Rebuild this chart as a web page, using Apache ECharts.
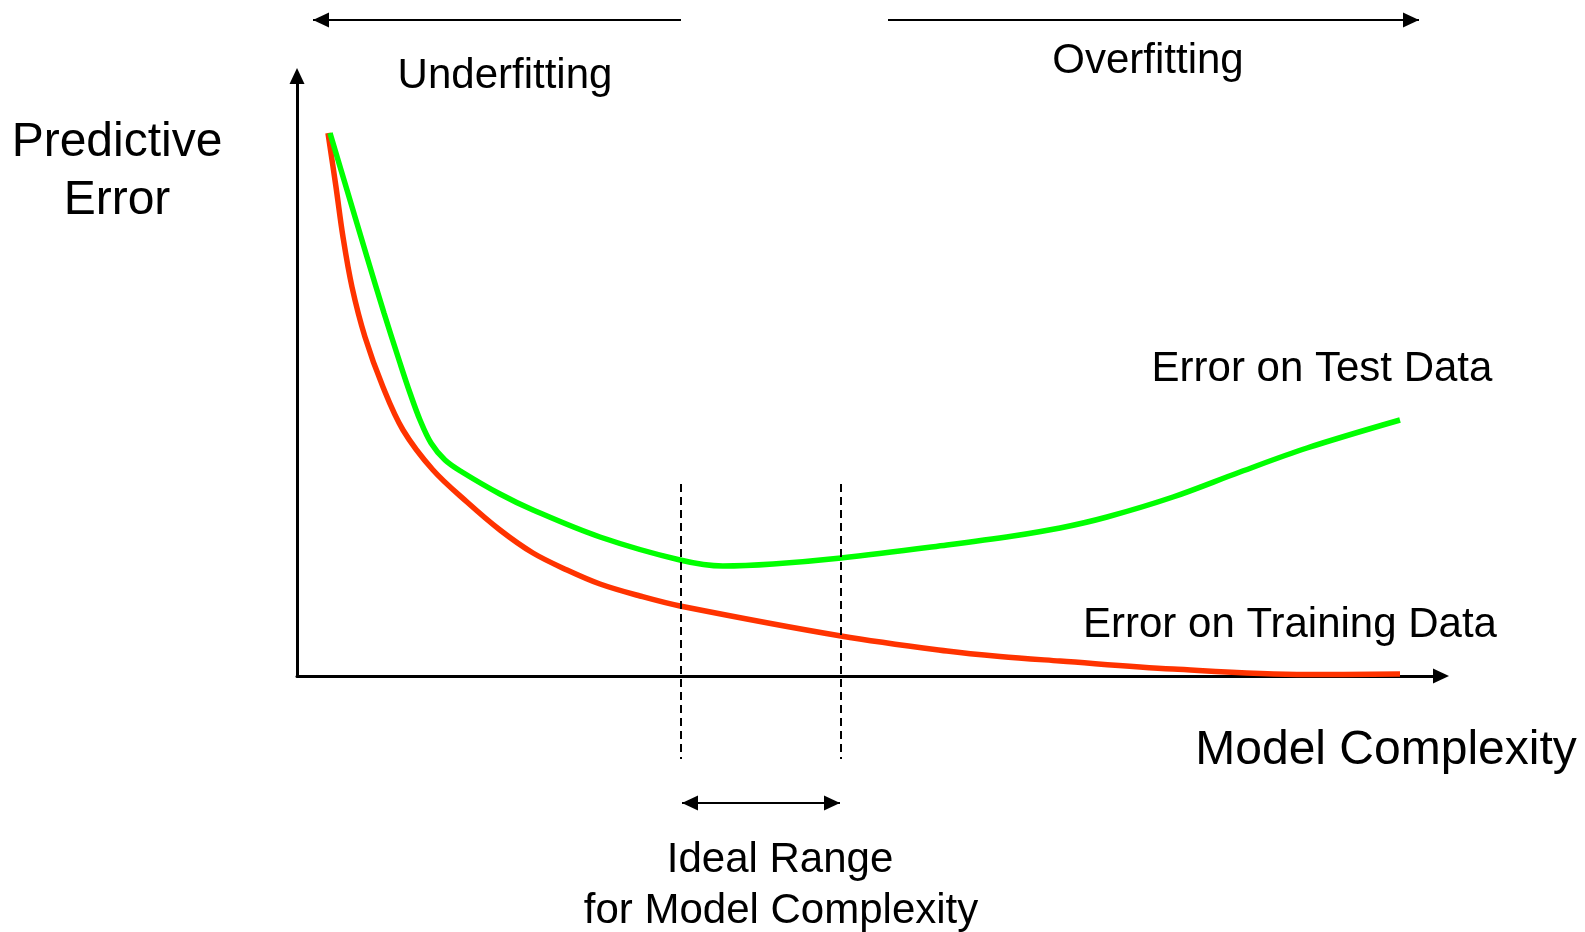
<!DOCTYPE html>
<html>
<head>
<meta charset="utf-8">
<title>Model Complexity vs Predictive Error</title>
<script src="https://cdn.jsdelivr.net/npm/echarts@6/dist/echarts.min.js"></script>
<style>
  html, body { margin: 0; padding: 0; background: #fff; }
  #chart { width: 1585px; height: 932px; }
</style>
</head>
<body>
<div id="chart"></div>
<script>
// values: [model complexity, predictive error]
const testError = [
  [3.3, 54.3], [5.0, 48.6], [7.0, 41.9], [8.7, 36.3], [10.3, 31.3],
  [11.3, 28.3], [12.3, 25.6], [13.4, 23.3], [14.8, 21.6], [16.5, 20.4],
  [20.3, 18.2], [23.6, 16.6], [30.3, 13.9], [38.3, 11.6], [42.6, 11.0],
  [47.6, 11.2], [54.4, 11.8], [65.0, 13.1], [71.6, 14.0], [76.3, 14.8],
  [81.0, 15.9], [87.6, 17.9], [94.3, 20.4], [101.0, 22.8], [110.3, 25.6]
]
const trainError = [
  [3.1, 54.3], [3.9, 48.9], [4.6, 43.9], [5.5, 38.9], [6.8, 33.9],
  [8.6, 28.9], [10.6, 24.6], [13.6, 20.6], [17.0, 17.4], [20.3, 14.6],
  [23.6, 12.3], [27.0, 10.6], [30.3, 9.2], [34.3, 8.0], [38.3, 7.0],
  [54.4, 4.0], [65.0, 2.5], [70.3, 1.95], [76.3, 1.5], [87.6, 0.7],
  [101.0, 0.15], [110.3, 0.2]
]
// ideal range bounds on the complexity axis
const idealRange = [38.4, 54.4]
const idealMarkTop = 19.2 // dashed guides run from here...
const idealMarkBottom = -8.3 // ...down below the axis
const idealArrowLevel = -12.7
// direction arrows above the plot
const arrowLevel = 65.6
const underfitSpan = [38.4, 1.6] // from -> tip
const overfitSpan = [59.1, 112.2] // from -> tip

const FONT = '"Liberation Sans", Arial, Helvetica, sans-serif'
const RIGHT_HEAD = 'path://M0,0L2,1L0,2Z'
const LEFT_HEAD = 'path://M2,0L0,1L2,2Z'

function headPoint(x, y, head) {
  return {
    value: [x, y],
    symbol: head,
    symbolSize: [16, 15],
    symbolOffset: [head === RIGHT_HEAD ? '-50%' : '50%', 0]
  }
}

function arrowSeries(data) {
  return {
    type: 'line',
    data: data,
    clip: false,
    silent: true,
    symbol: 'none',
    showSymbol: true,
    showAllSymbol: true,
    itemStyle: { color: '#000' },
    lineStyle: { color: '#000', width: 2 },
    z: 5
  }
}

function dashSeries(x) {
  return {
    type: 'line',
    data: [[x, idealMarkTop], [x, idealMarkBottom]],
    clip: false,
    silent: true,
    symbol: 'none',
    lineStyle: { color: '#000', width: 2, type: [8, 5] },
    z: 4
  }
}

function label(text, x, y, size) {
  return {
    type: 'text',
    x: x,
    y: y,
    silent: true,
    style: {
      text: text,
      font: size + 'px ' + FONT,
      fill: '#000',
      align: 'center',
      textAlign: 'center',
      verticalAlign: 'middle',
      textVerticalAlign: 'middle'
    }
  }
}

const myChart = echarts.init(document.getElementById('chart'))

const axisLine = {
  show: true,
  symbol: ['none', 'triangle'],
  symbolSize: [15, 16],
  lineStyle: { color: '#000', width: 3 }
}

const option = {
  animation: false,
  backgroundColor: '#fff',
  grid: { left: 297, right: 144, top: 76, bottom: 256, containLabel: false },
  xAxis: {
    type: 'value',
    min: 0,
    max: 114.4,
    axisLine: axisLine,
    axisTick: { show: false },
    axisLabel: { show: false },
    splitLine: { show: false }
  },
  yAxis: {
    type: 'value',
    min: 0,
    max: 60,
    axisLine: axisLine,
    axisTick: { show: false },
    axisLabel: { show: false },
    splitLine: { show: false }
  },
  series: [
    {
      name: 'Error on Training Data',
      type: 'line',
      data: trainError,
      smooth: 0.35,
      symbol: 'none',
      clip: false,
      lineStyle: { color: '#ff3300', width: 5.5 },
      z: 2
    },
    {
      name: 'Error on Test Data',
      type: 'line',
      data: testError,
      smooth: 0.35,
      symbol: 'none',
      clip: false,
      lineStyle: { color: '#00ff00', width: 5.5 },
      z: 3
    },
    dashSeries(idealRange[0]),
    dashSeries(idealRange[1]),
    arrowSeries([
      headPoint(idealRange[0] + 0.1, idealArrowLevel, LEFT_HEAD),
      headPoint(idealRange[1] - 0.1, idealArrowLevel, RIGHT_HEAD)
    ]),
    arrowSeries([
      { value: [underfitSpan[0], arrowLevel], symbol: 'none' },
      headPoint(underfitSpan[1], arrowLevel, LEFT_HEAD)
    ]),
    arrowSeries([
      { value: [overfitSpan[0], arrowLevel], symbol: 'none' },
      headPoint(overfitSpan[1], arrowLevel, RIGHT_HEAD)
    ])
  ],
  graphic: [
    label('Underfitting', 505, 76, 42),
    label('Overfitting', 1148, 61, 42),
    label('Predictive', 117, 143, 48),
    label('Error', 117, 201, 48),
    label('Error on Test Data', 1322, 369, 42),
    label('Error on Training Data', 1290, 625, 42),
    label('Model Complexity', 1386, 751, 48),
    label('Ideal Range', 780, 860, 42),
    label('for Model Complexity', 781, 911, 42)
  ]
}

option && myChart.setOption(option)
</script>
</body>
</html>
